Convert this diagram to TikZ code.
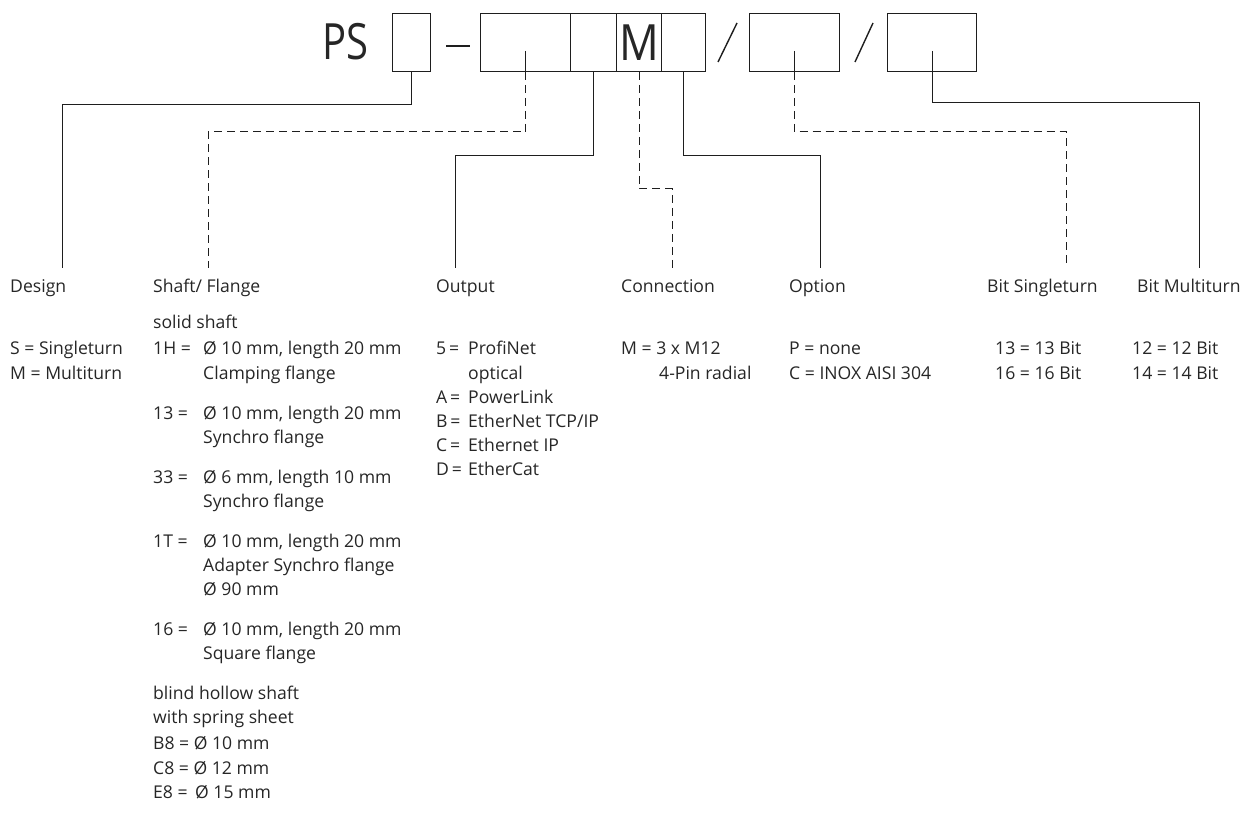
\documentclass[tikz,border=0pt]{standalone}
\usepackage{graphicx}
\usepackage{fontspec}
\setmainfont{Open Sans}
\usetikzlibrary{calc}
\definecolor{linec}{HTML}{1E1E1E}
\definecolor{txt}{HTML}{262626}
\begin{document}
\begin{tikzpicture}[x=1pt,y=-1pt,
  cell/.style={draw=linec, line width=1pt, minimum height=58pt, inner sep=0pt, anchor=north west},
  conn/.style={draw=linec, line width=1pt},
  dconn/.style={conn, dash pattern=on 8pt off 5pt},
  lbl/.style={anchor=base west, inner sep=0pt, text=txt, font=\fontsize{17.6}{20}\selectfont},
  big/.style={inner sep=0pt, text=txt, font=\fontsize{50}{50}\selectfont},
]
\useasboundingbox (0,0) rectangle (1245,813);

% code boxes
\node[cell, minimum width=38pt] (b1) at (392,13) {};
\node[cell, minimum width=90pt] (c1) at (480,13) {};
\node[cell, minimum width=46pt] (c2) at (570,13) {};
\node[cell, minimum width=45pt] (c3) at (616,13) {};
\node[cell, minimum width=44pt] (c4) at (661,13) {};
\node[cell, minimum width=90pt] (b3) at (749,13) {};
\node[cell, minimum width=89pt] (b4) at (887,13) {};

\node[big, anchor=base west] (ps) at (322,60) {\scalebox{0.8}[1]{PS}};
\node[big] (m) at (c3.center) {\scalebox{0.88}[1]{M}};
\draw[draw=linec, line width=2.4pt] (446,46) -- (470,46);
\draw[draw=linec, line width=1.4pt] (718,62) -- (737,23);
\draw[draw=linec, line width=1.4pt] (855,62) -- (873,23);

% connector ends
\coordinate (eDes) at (62,268);
\coordinate (eSha) at (208,268);
\coordinate (eOut) at (455,268);
\coordinate (eCon) at (672,268);
\coordinate (eOpt) at (820,268);
\coordinate (eBS) at (1066,268);
\coordinate (eBM) at (1199,268);

\draw[conn] (b1.south) -- ++(0,33) -| (eDes);
\draw[conn] ($(c1.south)+(0,-21)$) -- (c1.south);
\draw[dconn] (c1.south) -- ++(0,60) -| (eSha);
\draw[conn] (c2.south) -- ++(0,84) -| (eOut);
\draw[dconn] (c3.south) -- ++(0,117) -| (eCon);
\draw[conn] (c4.south) -- ++(0,84) -| (eOpt);
\draw[conn] ($(b3.south)+(0,-21)$) -- (b3.south);
\draw[dconn] (b3.south) -- ++(0,60) -| (eBS);
\draw[conn] ($(b4.south)+(0,-21)$) -- (b4.south) -- ++(0,31) -| (eBM);

% titles
\node[lbl] (tDes) at (10,292) {Design};
\node[lbl] (tSha) at (153,292) {Shaft/ Flange};
\node[lbl] (tOut) at (436,292) {Output};
\node[lbl] (tCon) at (621,292) {Connection};
\node[lbl] (tOpt) at (789,292) {Option};
\node[lbl] (tBS) at (987,292) {Bit Singleturn};
\node[lbl] (tBM) at (1137,292) {Bit Multiturn};

% Design
\node[lbl] (d1) at (10,354) {S = Singleturn};
\node[lbl] (d2) at (10,379) {M = Multiturn};

% Shaft / Flange
\node[lbl] (s0) at (153,328) {solid shaft};
\node[lbl] (s1a) at (153,354) {1H =};
\node[lbl] (s1b) at (203,354) {Ø 10 mm, length 20 mm};
\node[lbl] (s1c) at (203,379) {Clamping flange};
\node[lbl] (s2a) at (153,419) {13 =};
\node[lbl] (s2b) at (203,419) {Ø 10 mm, length 20 mm};
\node[lbl] (s2c) at (203,443) {Synchro flange};
\node[lbl] (s3a) at (153,483) {33 =};
\node[lbl] (s3b) at (203,483) {Ø 6 mm, length 10 mm};
\node[lbl] (s3c) at (203,507) {Synchro flange};
\node[lbl] (s4a) at (153,547) {1T =};
\node[lbl] (s4b) at (203,547) {Ø 10 mm, length 20 mm};
\node[lbl] (s4c) at (203,571) {Adapter Synchro flange};
\node[lbl] (s4d) at (203,595) {Ø 90 mm};
\node[lbl] (s5a) at (153,635) {16 =};
\node[lbl] (s5b) at (203,635) {Ø 10 mm, length 20 mm};
\node[lbl] (s5c) at (203,659) {Square flange};
\node[lbl] (s6) at (153,699) {blind hollow shaft};
\node[lbl] (s7) at (153,723) {with spring sheet};
\node[lbl] (s8) at (153,749) {B8 = Ø 10 mm};
\node[lbl] (s9) at (153,774) {C8 = Ø 12 mm};
\node[lbl] (s10) at (153,798) {E8 = \,Ø 15 mm};

% Output
\node[lbl] (o1a) at (436,354) {5\hspace{0.16em}=};
\node[lbl] (o1b) at (468,354) {ProfiNet};
\node[lbl] (o1c) at (468,379) {optical};
\node[lbl] (o2a) at (436,403) {A\hspace{0.16em}=};
\node[lbl] (o2b) at (468,403) {PowerLink};
\node[lbl] (o3a) at (436,427) {B\hspace{0.16em}=};
\node[lbl] (o3b) at (468,427) {EtherNet TCP/IP};
\node[lbl] (o4a) at (436,451) {C\hspace{0.16em}=};
\node[lbl] (o4b) at (468,451) {Ethernet IP};
\node[lbl] (o5a) at (436,475) {D\hspace{0.16em}=};
\node[lbl] (o5b) at (468,475) {EtherCat};

% Connection
\node[lbl] (k1) at (621,354) {M = 3 x M12};
\node[lbl] (k2) at (659,379) {4-Pin radial};

% Option
\node[lbl] (p1) at (789,354) {P = none};
\node[lbl] (p2) at (789,379) {C = INOX AISI 304};

% Bit Singleturn
\node[lbl] (bs1) at (995,354) {13 = 13 Bit};
\node[lbl] (bs2) at (995,379) {16 = 16 Bit};

% Bit Multiturn
\node[lbl] (bm1) at (1132,354) {12 = 12 Bit};
\node[lbl] (bm2) at (1132,379) {14 = 14 Bit};
\end{tikzpicture}
\end{document}
